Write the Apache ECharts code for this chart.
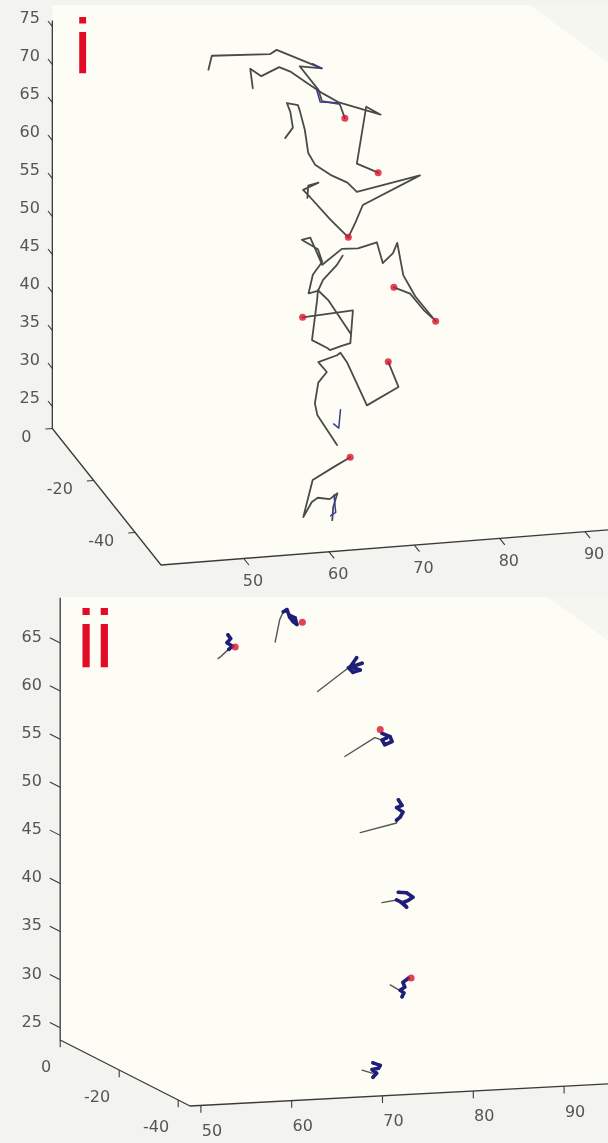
<!DOCTYPE html>
<html><head><meta charset="utf-8">
<script src="https://cdn.jsdelivr.net/npm/echarts@6/dist/echarts.min.js"></script>
<style>html,body{margin:0;padding:0;background:#f3f3f0}#c{width:608px;height:1143px}</style>
</head><body><div id="c"></div><script>
// ---------------- DATA (x, y = depth, z) ----------------
const X_TICKS = [50, 60, 70, 80, 90];
const DEPTH_TICKS = [-40, -20, 0];
const Z_TICKS_I = [25, 30, 35, 40, 45, 50, 55, 60, 65, 70, 75];
const Z_TICKS_II = [25, 30, 35, 40, 45, 50, 55, 60, 65];

// panel i : trajectories
const PATH_I_1 = [[74.6,0,59.9],[74.0,0,61.8],[71.9,0,62.4],[71.5,0,63.9],[69.3,0,67.2],[71.9,0,66.7],[66.6,0,69.6],[65.8,0,69.1],[59.0,0,69.5],[58.6,0,67.7]];
const PATH_I_2 = [[78.5,0,52.4],[76.0,0,53.8],[77.1,0,61.2],[78.8,0,60.0],[73.8,0,62.1],[72.0,0,63.4],[70.2,0,64.9],[68.2,0,66.6],[66.9,0,67.3],[64.8,0,66.3],[63.5,0,67.4],[63.8,0,64.8]];
const PATH_I_3 = [[70.2,0,49.8],[70.3,0,51.4],[71.5,0,51.7],[69.7,0,50.9],[70.5,0,49.9],[72.9,0,46.7],[75.0,0,44.2],[75.8,0,46.0],[76.7,0,48.3],[83.4,0,51.6],[76.0,0,50.1],[74.9,0,51.4],[72.9,0,52.6],[71.1,0,54.1],[70.3,0,55.7],[69.9,0,58.8],[69.3,0,61.4],[69.1,0,62.1],[67.8,0,62.5],[68.2,0,61.3],[68.5,0,59.2],[67.6,0,57.9]];
const PATH_I_4 = [[76.7,-15,42.6],[78.6,-15,41.6],[80.2,-15,39.3],[81.2,-15,38.2]];
const PATH_I_5 = [[81.6,-15,37.7],[80.3,-15,39.6],[79.2,-15,41.2],[77.8,-15,44.1],[77.1,-15,48.4],[76.6,-15,47.1],[75.4,-15,45.9],[74.7,-15,48.7],[72.5,-15,48.1],[70.6,-15,48.2],[68.3,-15,46.3],[66.9,-15,50.0],[65.9,-15,49.8],[67.8,-15,48.4],[68.3,-15,46.7],[67.2,-15,45.1],[66.7,-15,42.7],[67.8,-15,42.9],[68.4,-15,44.3],[70.0,-15,46.1],[70.7,-15,47.3]];
const PATH_I_6 = [[66.0,-15,39.6],[71.9,-15,40.0],[71.6,-15,35.7],[70.5,-15,35.4],[69.2,-15,35.0],[68.9,-15,35.3],[67.1,-15,36.5],[67.7,-15,41.7],[67.8,-15,43.0],[69.0,-15,41.6],[71.6,-15,37.0]];
const PATH_I_7 = [[72.4,-30,38.3],[73.6,-30,34.9],[69.9,-30,32.8],[67.6,-30,38.6],[66.8,-30,40.0],[66.4,-30,39.7],[64.2,-30,39.0],[65.2,-30,37.6],[64.2,-30,36.3],[63.8,-30,33.6],[64.1,-30,32.0],[66.4,-30,27.9]];
const PATH_I_8 = [[64.3,-45,31.6],[62.4,-45,30.5],[59.9,-45,29.0],[58.8,-45,24.2],[59.8,-45,26.1],[60.5,-45,26.6],[61.9,-45,26.3],[62.8,-45,27.0],[62.3,-45,25.2],[62.2,-45,23.5]];
const BLUE_I_1 = [[70.8,0,67.4],[71.9,0,66.7]];
const BLUE_I_2 = [[71.3,0,63.9],[71.7,0,62.3],[73.8,0,62.0]];
const BLUE_I_3 = [[66.8,-30,32.5],[66.6,-30,30.1],[66.0,-30,30.7]];
const BLUE_I_4 = [[62.4,-45,26.8],[62.6,-45,24.5],[62.0,-45,24.1]];
const MARKERS_I = [[74.6,0,59.9],[78.5,0,52.4],[75.0,0,44.2],[76.7,-15,42.6],[81.6,-15,37.7],[66.0,-15,39.6],[72.4,-30,38.3],[64.3,-45,31.6]];

// panel ii : clusters (blob + tail)
const BLOB_II_1 = [[62.4,-15,67.5],[62.7,-15,67.1],[62.3,-15,66.7],[62.9,-15,66.3],[62.5,-15,66.0]];
const TAIL_II_1 = [[62.5,-15,66.0],[62.1,-15,65.7],[61.5,-15,65.2],[61.3,-15,65.1]];
const BLOB_II_2 = [[68.5,-15,69.6],[68.9,-15,69.8],[69.2,-15,69.0],[69.6,-15,68.5],[70.0,-15,68.2],[69.8,-15,68.9],[69.2,-15,69.2]];
const TAIL_II_2 = [[68.5,-15,69.6],[68.1,-15,68.8],[67.6,-15,66.5]];
const BLOB_II_3 = [[71.7,-30,67.0],[71.0,-30,66.1],[72.1,-30,65.7],[71.3,-30,65.5],[70.8,-30,66.0],[72.3,-30,66.4]];
const TAIL_II_3 = [[70.8,-30,66.0],[67.4,-30,63.7]];
const BLOB_II_4 = [[74.5,-30,59.0],[75.4,-30,58.6],[75.6,-30,58.1],[74.8,-30,57.8],[74.5,-30,58.3],[75.0,-30,58.5]];
const TAIL_II_4 = [[74.5,-30,58.3],[73.7,-30,58.6],[70.4,-30,56.8]];
const BLOB_II_5 = [[76.3,-30,52.0],[76.7,-30,51.4],[76.1,-30,51.2],[76.8,-30,50.7],[76.5,-30,50.2],[76.1,-30,49.9]];
const TAIL_II_5 = [[76.1,-30,49.9],[76.1,-30,49.6],[72.1,-30,48.8]];
const BLOB_II_6 = [[76.3,-30,42.4],[77.2,-30,42.3],[77.9,-30,41.8],[77.4,-30,41.5],[76.8,-30,41.3],[77.2,-30,40.8],[76.5,-30,41.4],[76.1,-30,41.6]];
const TAIL_II_6 = [[76.1,-30,41.6],[74.5,-30,41.4]];
const BLOB_II_7 = [[77.4,-30,33.4],[76.8,-30,33.0],[77.0,-30,32.5],[76.5,-30,32.2],[76.9,-30,31.9],[76.7,-30,31.5]];
const TAIL_II_7 = [[75.4,-30,32.8],[76.9,-30,31.9]];
const BLOB_II_8 = [[73.5,-30,24.8],[74.3,-30,24.5],[74.1,-30,24.2],[73.4,-30,24.1],[73.9,-30,23.7],[73.5,-30,23.3]];
const TAIL_II_8 = [[72.3,-30,24.1],[73.5,-30,23.7]];
const MARKERS_II = [[63.2,-15,66.2],[70.6,-15,68.4],[74.3,-30,59.4],[77.7,-30,33.4]];

// ---------------- VIEW (camera / layout) ----------------
const W = 608, H = 1143;
const VIEW_I = {o:[161,565], x0:40.3, dmin:-52.5, dmax:0, z0:22.1, zTop:75.8,
  ex:[8.53,-0.67], ed:[-2.07,-2.6], ez:[0,-7.6], topY:5, triX:530, triY:62,
  zTick:{d:[0,2.1,0], dx:-8, dy:-2, align:'right'},
  yTick:{d:[-0.8,0,0], dx:-14, dy:9, align:'right'},
  xTick:{d:[0,-2.5,0], dx:4, dy:17, align:'center'}};
const VIEW_II = {o:[190,1106], x0:48.8, dmin:-44, dmax:0, z0:23.73, zTop:69.7,
  ex:[9.08,-0.48], ed:[-2.95,-1.5], ez:[0,-9.62], topY:597, triX:548, triY:640,
  zTick:{d:[0,3.5,0], dx:-8, dy:0, align:'right'},
  yTick:{d:[0,0,-0.75], dx:-9, dy:21, align:'right'},
  xTick:{d:[0,0,-0.75], dx:11, dy:19, align:'center'}};

function proj(V, p) {
  const dx = p[0]-V.x0, dd = p[1]-V.dmin, dz = p[2]-V.z0;
  return [V.o[0]+dx*V.ex[0]+dd*V.ed[0]+dz*V.ez[0], V.o[1]+dx*V.ex[1]+dd*V.ed[1]+dz*V.ez[1]];
}
function xEnd(V){ return V.x0 + (W - V.o[0]) / V.ex[0]; }

const FONT = '16px "DejaVu Sans", sans-serif';
const AXIS_COLOR = '#3a3a3a', LABEL_COLOR = '#555555';

function bgSeries(V) {
  return {type:'custom', coordinateSystem:'cartesian2d', silent:true, z:0, data:[[0,0]],
    renderItem(params, api){
      const a = api.coord(proj(V,[V.x0,V.dmax,V.z0]));
      const b = api.coord(proj(V,[V.x0,V.dmin,V.z0]));
      const c = api.coord(proj(V,[xEnd(V),V.dmin,V.z0]));
      const t = api.coord([a[0], V.topY]);
      const tx = api.coord([V.triX, V.topY]);
      const ty = api.coord([W, V.triY]);
      const tr = api.coord([W, V.topY]);
      return {type:'group', children:[
        {type:'polygon', shape:{points:[[a[0],t[1]],a,b,c,ty,tx]}, style:{fill:'#fdfdf5'}},
        {type:'polygon', shape:{points:[tx,tr,ty]}, style:{fill:'#f6f6f1'}}
      ]};
    }};
}
function axisLines(V) {
  const pts = [
    proj(V,[V.x0,V.dmax,V.zTop]), proj(V,[V.x0,V.dmax,V.z0]),
    proj(V,[V.x0,V.dmin,V.z0]), proj(V,[xEnd(V),V.dmin,V.z0])];
  return {type:'line', data:pts, symbol:'none', silent:true, z:4, animation:false,
    lineStyle:{color:AXIS_COLOR, width:1.3}};
}
function tickSeries(V, values, axis) {
  const cfg = axis==='x' ? V.xTick : axis==='y' ? V.yTick : V.zTick;
  return {type:'custom', coordinateSystem:'cartesian2d', silent:true, z:5,
    data: values.map(v => [v, 0]),
    renderItem(params, api){
      const val = values[params.dataIndex];
      const base = axis==='x' ? [val,V.dmin,V.z0] : axis==='y' ? [V.x0,val,V.z0] : [V.x0,V.dmax,val];
      const end = base.map((c,i)=>c+cfg.d[i]);
      const a = api.coord(proj(V,base)), b = api.coord(proj(V,end));
      return {type:'group', children:[
        {type:'line', shape:{x1:a[0],y1:a[1],x2:b[0],y2:b[1]}, style:{stroke:AXIS_COLOR, lineWidth:1.1}},
        {type:'text', x:b[0]+cfg.dx, y:b[1]+cfg.dy,
          style:{text:String(val), fill:LABEL_COLOR, font:FONT, align:cfg.align, textAlign:cfg.align,
                 verticalAlign:'middle', textVerticalAlign:'middle'}}
      ]};
    }};
}
function pathSeries(V, path, color, width, z) {
  return {type:'line', data:path.map(p=>proj(V,p)), symbol:'none', silent:true, animation:false,
    z:z||2, lineStyle:{color:color, width:width, join:'round', cap:'round'}};
}
function dotSeries(V, pts, color, size, z) {
  return {type:'scatter', data:pts.map(p=>proj(V,p)), symbolSize:size, silent:true, animation:false,
    z:z||3, itemStyle:{color:color}};
}

const GRAY = '#4a4a4a', NAVY = '#1f1f78', BLUE = '#3a3a9a', RED = '#d7152f';
const series = [
  bgSeries(VIEW_I), bgSeries(VIEW_II),
  axisLines(VIEW_I), axisLines(VIEW_II),
  tickSeries(VIEW_I, Z_TICKS_I, 'z'), tickSeries(VIEW_I, DEPTH_TICKS, 'y'), tickSeries(VIEW_I, X_TICKS, 'x'),
  tickSeries(VIEW_II, Z_TICKS_II, 'z'), tickSeries(VIEW_II, DEPTH_TICKS, 'y'), tickSeries(VIEW_II, X_TICKS, 'x')
];
[PATH_I_1,PATH_I_2,PATH_I_3,PATH_I_4,PATH_I_5,PATH_I_6,PATH_I_7,PATH_I_8].forEach(p=>series.push(pathSeries(VIEW_I,p,GRAY,1.8)));
[BLUE_I_1,BLUE_I_2,BLUE_I_3,BLUE_I_4].forEach(p=>series.push(pathSeries(VIEW_I,p,BLUE,1.5,3)));
series.push(dotSeries(VIEW_I, MARKERS_I, RED, 7, 6));
[TAIL_II_1,TAIL_II_2,TAIL_II_3,TAIL_II_4,TAIL_II_5,TAIL_II_6,TAIL_II_7,TAIL_II_8].forEach(p=>series.push(pathSeries(VIEW_II,p,'#555555',1.4)));
[BLOB_II_1,BLOB_II_2,BLOB_II_3,BLOB_II_4,BLOB_II_5,BLOB_II_6,BLOB_II_7,BLOB_II_8].forEach(p=>{
  series.push(pathSeries(VIEW_II,p,NAVY,3.6,3));
  series.push(dotSeries(VIEW_II,p,NAVY,3.6,3));
});
series.push(dotSeries(VIEW_II, MARKERS_II, RED, 7, 6));

const chart = echarts.init(document.getElementById('c'), null, {renderer:'canvas'});
chart.setOption({
  backgroundColor:'#f3f3f0', animation:false,
  grid:{left:0, right:0, top:0, bottom:0},
  xAxis:{type:'value', min:0, max:W, show:false},
  yAxis:{type:'value', min:0, max:H, inverse:true, show:false},
  graphic:[
    {type:'text', left:74, top:13, z:10, style:{text:'i', fill:'#e30b25', font:'78px "Liberation Sans", Arial, sans-serif'}},
    {type:'text', left:77, top:603, z:10, style:{text:'ii', fill:'#e30b25', font:'82px "Liberation Sans", Arial, sans-serif'}}
  ],
  series: series
});
</script></body></html>
